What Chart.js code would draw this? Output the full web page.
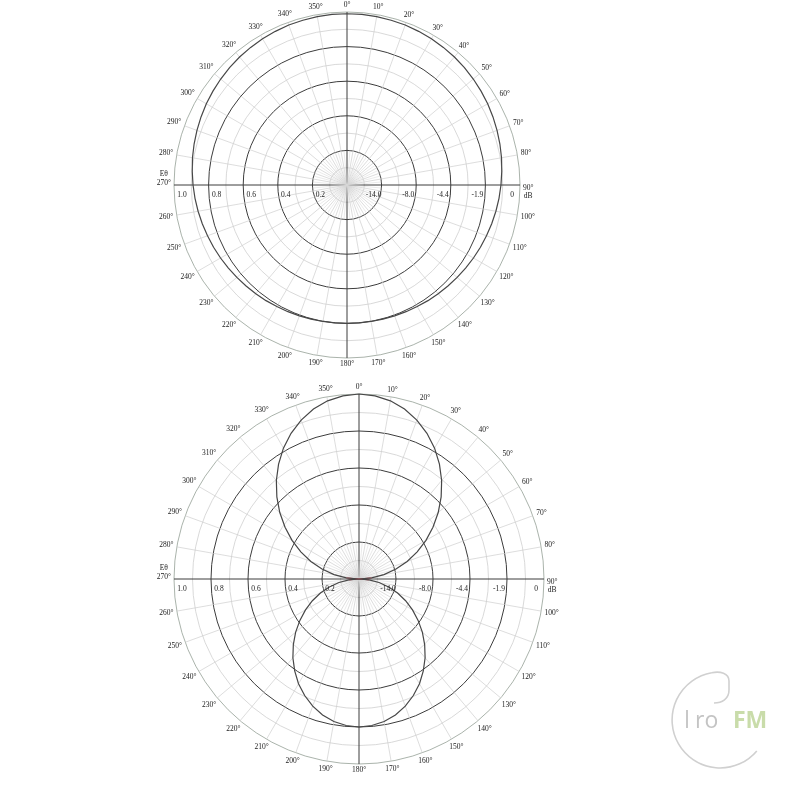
<!DOCTYPE html>
<html>
<head>
<meta charset="utf-8">
<script src="https://cdn.jsdelivr.net/npm/chart.js@4.4.1/dist/chart.umd.min.js"></script>
<style>
    body { margin: 0; background: #fff; width: 800px; height: 800px; position: relative; overflow: hidden; }
    canvas { position: absolute; }
    #topChart { left: 144px; top: 0px; }
    #bottomChart { left: 144px; top: 364px; }
    #logo { position: absolute; left: 0; top: 0; }
</style>
</head>
<body>
<canvas id="topChart" width="406" height="388"></canvas>
<canvas id="bottomChart" width="430" height="430"></canvas>
<svg id="logo" width="800" height="800" viewBox="0 0 800 800">
    <path d="M756.8 750.9 A48 48 0 1 1 711.7 672.7 C 720 671, 729 673, 729 681 L 729 690 C 729 699, 722 703, 714 703" fill="none" stroke="#d0d0d0" stroke-width="1.6"/>
    <line x1="687" y1="710" x2="687" y2="728" stroke="#c8c8c8" stroke-width="2"/>
    <text x="695" y="728" font-family="Open Sans" font-size="23" fill="#c4c4c4">ro</text>
    <text x="733" y="728" font-family="Open Sans" font-size="23" font-weight="bold" fill="#c9dcaa">FM</text>
</svg>
<script>
// angles every 5 deg, only the 10 deg ones get a label
const angleLabels = ['0°','5°','10°','15°','20°','25°','30°','35°','40°','45°','50°','55°',
    '60°','65°','70°','75°','80°','85°','90°','95°','100°','105°','110°','115°',
    '120°','125°','130°','135°','140°','145°','150°','155°','160°','165°','170°','175°',
    '180°','185°','190°','195°','200°','205°','210°','215°','220°','225°','230°','235°',
    '240°','245°','250°','255°','260°','265°','270°','275°','280°','285°','290°','295°',
    '300°','305°','310°','315°','320°','325°','330°','335°','340°','345°','350°','355°'];

// horizontal plane (top diagram), relative field
const horizPattern = [0.99,0.99,0.988,0.986,0.984,0.98,0.976,0.971,0.966,0.96,0.953,0.946,
    0.939,0.931,0.923,0.915,0.907,0.898,0.89,0.882,0.874,0.866,0.858,0.851,
    0.844,0.837,0.831,0.825,0.82,0.816,0.811,0.808,0.805,0.803,0.801,0.8,
    0.8,0.8,0.801,0.803,0.805,0.808,0.811,0.816,0.82,0.825,0.831,0.837,
    0.844,0.851,0.858,0.866,0.874,0.882,0.89,0.898,0.907,0.915,0.923,0.931,
    0.939,0.946,0.953,0.96,0.966,0.971,0.976,0.98,0.984,0.986,0.988,0.99];

// vertical plane (bottom diagram), relative field
const vertPattern = [1.0,0.994,0.978,0.951,0.914,0.869,0.817,0.758,0.695,0.628,0.559,0.488,
    0.418,0.347,0.277,0.207,0.137,0.069,0.0,0.055,0.11,0.166,0.222,0.278,
    0.334,0.39,0.447,0.502,0.556,0.606,0.654,0.695,0.731,0.761,0.782,0.795,
    0.8,0.795,0.782,0.761,0.731,0.695,0.654,0.606,0.556,0.502,0.447,0.39,
    0.334,0.278,0.222,0.166,0.11,0.055,0.0,0.069,0.137,0.207,0.277,0.347,
    0.418,0.488,0.559,0.628,0.695,0.758,0.817,0.869,0.914,0.951,0.978,0.994];

const fieldTicks = [0.2, 0.4, 0.6, 0.8, 1.0];
const fieldLabels = ['0.2', '0.4', '0.6', '0.8', '1.0'];
const dbLabels = ['-14.0', '-8.0', '-4.4', '-1.9', '0'];

const DARK = '#3c3c3c';
const LIGHT = '#cfcfcf';
const OUTER = '#94a096';

const polarDecor = {
    id: 'polarDecor',
    beforeDatasetsDraw(chart) {
        // dense rays inside the first ring
        const s = chart.scales.r;
        const ctx = chart.ctx;
        const inner = s.getDistanceFromCenterForValue(fieldTicks[0]);
        ctx.save();
        ctx.strokeStyle = '#d6d6d6';
        ctx.lineWidth = 0.5;
        for (let i = 1; i < angleLabels.length; i += 2) {
            const p = s.getPointPosition(i, inner);
            ctx.beginPath();
            ctx.moveTo(s.xCenter, s.yCenter);
            ctx.lineTo(p.x, p.y);
            ctx.stroke();
        }
        ctx.restore();
    },
    afterDraw(chart) {
        const s = chart.scales.r;
        const ctx = chart.ctx;
        const R = s.drawingArea;
        ctx.save();
        ctx.font = '7.5px "Liberation Serif"';
        ctx.fillStyle = '#222';
        ctx.textAlign = 'center';
        ctx.textBaseline = 'middle';
        angleLabels.forEach((lbl, i) => {
            if (i % 2) return;
            const a = s.getIndexAngle(i) - Math.PI / 2;
            const w = ctx.measureText(lbl).width;
            const d = R + 3 + Math.abs(Math.cos(a)) * w / 2 + Math.abs(Math.sin(a)) * 3.5;
            const p = s.getPointPosition(i, d);
            let dy = 0;
            if (lbl === '90°') {
                dy = 3;
                ctx.fillText('dB', p.x, p.y + 11);
            }
            if (lbl === '270°') {
                dy = -2;
                ctx.fillText('Eθ', p.x, p.y - 11);
            }
            ctx.fillText(lbl, p.x, p.y + dy);
        });
        fieldTicks.forEach((v, k) => {
            const d = s.getDistanceFromCenterForValue(v) - 8;
            ctx.fillText(fieldLabels[k], s.xCenter - d, s.yCenter + 10);
            ctx.fillText(dbLabels[k], s.xCenter + d, s.yCenter + 10);
        });
        ctx.restore();
    }
};

function makePolar(id, values, pad, extraSets) {
    return new Chart(document.getElementById(id), {
        type: 'radar',
        data: {
            labels: angleLabels,
            datasets: [{
                data: values,
                borderColor: '#474747',
                borderWidth: 1.2,
                pointRadius: 0,
                fill: false,
                tension: 0
            }].concat(extraSets || [])
        },
        options: {
            responsive: false,
            animation: false,
            layout: { padding: pad },
            plugins: {
                legend: { display: false },
                tooltip: { enabled: false }
            },
            scales: {
                r: {
                    min: 0,
                    max: 1,
                    ticks: { display: false, stepSize: 0.1 },
                    pointLabels: { display: false },
                    grid: {
                        circular: true,
                        color: c => {
                            const t = Math.round(c.tick.value * 10);
                            if (t === 10) return OUTER;
                            return t % 2 === 0 ? DARK : LIGHT;
                        },
                        lineWidth: c => {
                            const t = Math.round(c.tick.value * 10);
                            return (t % 2 === 0 && t !== 10) ? 1 : 0.8;
                        }
                    },
                    angleLines: {
                        color: c => c.index % 18 === 0 ? DARK : LIGHT,
                        lineWidth: c => c.index % 18 === 0 ? 1 : (c.index % 2 === 0 ? 0.7 : 0)
                    }
                }
            }
        },
        plugins: [polarDecor]
    });
}

makePolar('topChart', horizPattern, { top: 12, bottom: 30, left: 30, right: 30 });

// near the nulls the trace shows in red
const nullTrace = vertPattern.map(v => v < 0.09 ? v : null);
makePolar('bottomChart', vertPattern, 30, [{
    data: nullTrace,
    borderColor: '#d04050',
    borderWidth: 1,
    pointRadius: 0,
    fill: false,
    spanGaps: false
}]);
</script>
</body>
</html>
